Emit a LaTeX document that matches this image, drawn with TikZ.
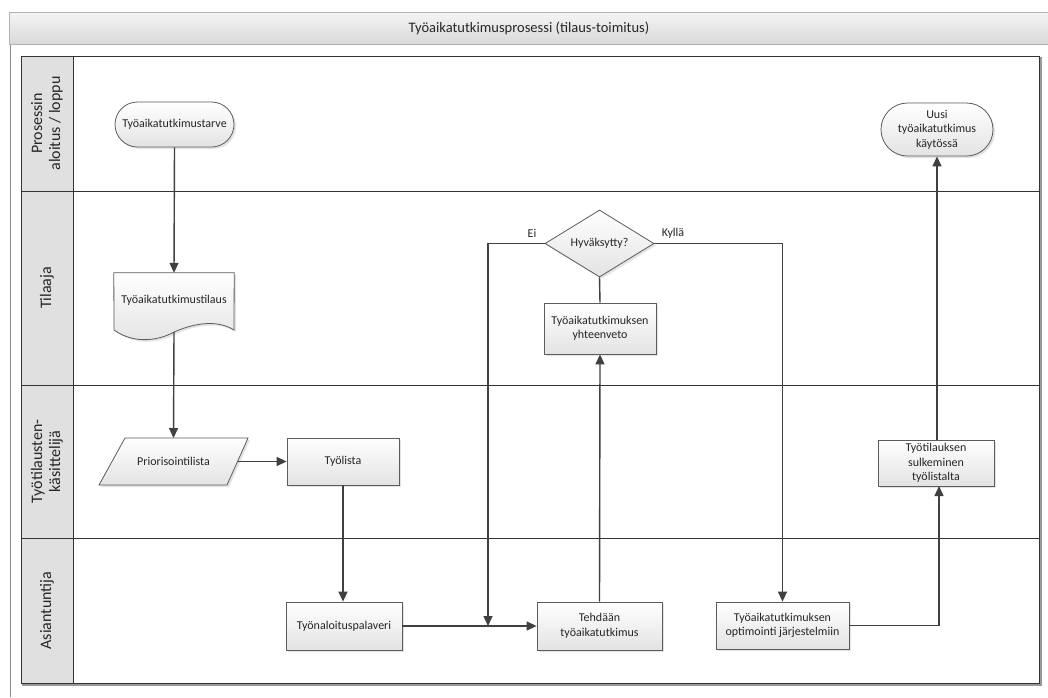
\documentclass[tikz,border=0pt]{standalone}
\usepackage{fontspec}
\setmainfont{Carlito}
\usetikzlibrary{shapes.misc,shapes.geometric,arrows.meta,shadows,calc}

\definecolor{linec}{HTML}{404040}
\definecolor{bordc}{HTML}{5C5C5C}
\definecolor{headc}{HTML}{E0E0E0}
\definecolor{txtc}{HTML}{262626}
\definecolor{lanec}{HTML}{333333}

\begin{document}
\begin{tikzpicture}[x=1pt,y=-1pt,
  every node/.style={font=\fontsize{12}{14.5}\selectfont, text=txtc},
  boxfill/.style={draw=bordc, line width=0.8pt, top color=white, bottom color=black!11,
    drop shadow={opacity=0.22, shadow xshift=2pt, shadow yshift=-2pt}},
  proc/.style={boxfill, rectangle, align=center, inner sep=0pt},
  term/.style={boxfill, rounded rectangle, align=center, inner sep=0pt},
  decide/.style={boxfill, diamond, aspect=1.63, inner sep=0pt, align=center},
  ghost/.style={rectangle, draw=none, inner sep=0pt, align=center},
  conn/.style={draw=linec, line width=1.4pt, -{Triangle[length=10pt,width=9pt]}},
  plain/.style={draw=linec, line width=1.4pt},
  lanelabel/.style={rotate=90, align=center, font=\fontsize{16}{18}\selectfont, text=black!85},
  lbl/.style={font=\fontsize{12}{14}\selectfont}
]
\useasboundingbox (0,0) rectangle (1048,697);
\fill[white] (0,0) rectangle (1048,697);

% outer frame and title band
\draw[black!45, line width=0.9pt] (10,44) -- (10,697);
\draw[black!30, line width=0.6pt, top color=black!4, bottom color=black!15] (9,12) rectangle (1049,44);
\node[font=\fontsize{14.5}{16}\selectfont, text=black!85] (title) at (529,28) {Työaikatutkimusprosessi (tilaus-toimitus)};

% pool with lanes
\draw[black!40, line width=2pt] (22,684.5) -- (1040.5,684.5) -- (1040.5,57);
\fill[headc] (21,56) rectangle (73,683);
\draw[lanec, line width=0.9pt] (21,56) rectangle (1039,683);
\draw[lanec, line width=0.9pt] (73,56) -- (73,683);
\draw[lanec, line width=0.9pt] (21,191) -- (1039,191);
\draw[lanec, line width=0.9pt] (21,385) -- (1039,385);
\draw[lanec, line width=0.9pt] (21,538) -- (1039,538);

\node[lanelabel] (lane1) at (47,123.5) {Prosessin\\aloitus / loppu};
\node[lanelabel] (lane2) at (47,288) {Tilaaja};
\node[lanelabel] (lane3) at (47,461.5) {Työtilausten-\\käsittelijä};
\node[lanelabel] (lane4) at (47,610.5) {Asiantuntija};

% start / end terminators
\node[term, minimum width=119pt, minimum height=45pt] (start) at (174.5,124.5) {Työaikatutkimustarve};
\node[term, minimum width=112pt, minimum height=53pt] (uusi) at (937,129.5) {Uusi\\työaikatutkimus\\käytössä};

% document shape
\node[ghost, minimum width=120pt, minimum height=59pt] (doc) at (174,302.5) {};
\path[boxfill] (doc.north west) -- (doc.north east) -- (234,330)
  .. controls (215,318) and (190,325) .. (174,332)
  .. controls (160,340) and (135,345) .. (114,330) -- cycle;
\node (doctext) at (174,300) {Työaikatutkimustilaus};

% data (parallelogram)
\node[ghost, minimum width=128pt, minimum height=47pt] (prio) at (173.5,461.5) {};
\path[boxfill] ($(prio.center)+(-48.5,-23.5)$) -- ($(prio.center)+(74.5,-23.5)$)
  -- ($(prio.center)+(53.5,23.5)$) -- ($(prio.center)+(-74.5,23.5)$) -- cycle;
\node (priotext) at (173.5,461.5) {Priorisointilista};

% process steps
\node[proc, minimum width=112pt, minimum height=47pt] (tyolista) at (343,461.5) {Työlista};
\node[proc, minimum width=116pt, minimum height=48pt] (palaveri) at (344,626) {Työnaloituspalaveri};
\node[proc, minimum width=125pt, minimum height=48pt] (tehdaan) at (599.5,626) {Tehdään\\työaikatutkimus};
\node[proc, minimum width=112pt, minimum height=51pt] (yhteen) at (600,328.5) {Työaikatutkimuksen\\yhteenveto};
\node[proc, minimum width=133pt, minimum height=47pt] (optim) at (782.5,625.5) {Työaikatutkimuksen\\optimointi järjestelmiin};
\node[proc, minimum width=116pt, minimum height=46pt] (sulk) at (936,463) {Työtilauksen\\sulkeminen\\työlistalta};

% decision
\node[decide, minimum width=109pt, minimum height=67pt] (hyv) at (599.5,243.5) {Hyväksytty?};
\node[lbl] (ei) at (532,233) {Ei};
\node[lbl] (kylla) at (673,233) {Kyllä};

% connectors
\coordinate (join) at (488,626);
\draw[conn] (start.south) -- (doc.north);
\draw[conn] (doc.south) -- (prio.north |- 0,438);
\draw[conn] (prio.east) -- (tyolista.west);
\draw[conn] (tyolista.south) -- (tyolista.south |- palaveri.north);
\draw[conn] (palaveri.east) -- (tehdaan.west);
\draw[conn] (hyv.west) -| (join);
\draw[conn] (tehdaan.north) -- (yhteen.south);
\draw[plain] (yhteen.north) -- (hyv.south);
\draw[conn] (hyv.east) -| (optim.north);
\draw[conn] (optim.east) -| (939,486) coordinate (sulkin);
\draw[conn] (sulk.north -| uusi.south) -- (uusi.south);
\end{tikzpicture}
\end{document}
